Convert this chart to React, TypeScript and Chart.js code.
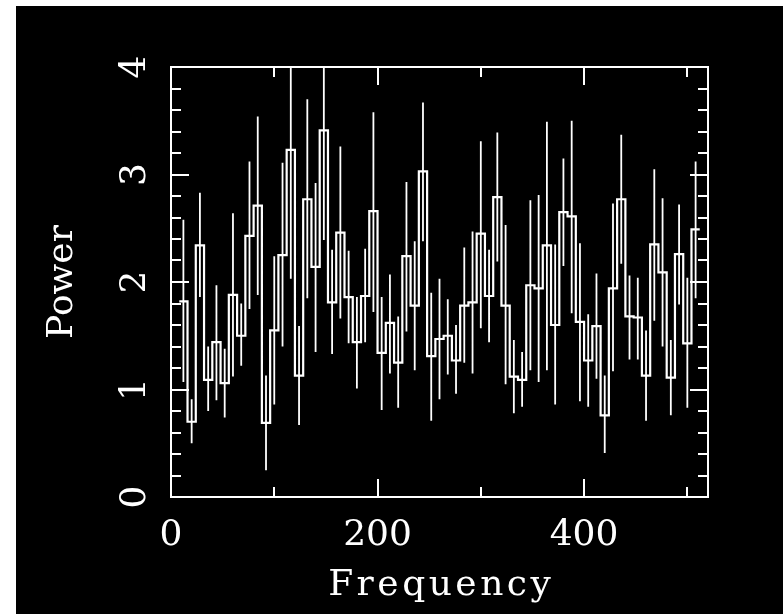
import React, { useEffect, useRef } from "react";
import { Chart, registerables } from "chart.js";

Chart.register(...registerables);

// Bin centres (frequency) of the power spectrum
const frequency = [
  12, 20, 28, 36, 44, 52, 60, 68, 76, 84, 92, 100, 108, 116, 124, 132,
  140, 148, 156, 164, 172, 180, 188, 196, 204, 212, 220, 228, 236, 244, 252, 260,
  268, 276, 284, 292, 300, 308, 316, 324, 332, 340, 348, 356, 364, 372, 380, 388,
  396, 404, 412, 420, 428, 436, 444, 452, 460, 468, 476, 484, 492, 500, 508,
];
const BIN_WIDTH = 8;

const power = [
  1.82, 0.7, 2.34, 1.09, 1.44, 1.06, 1.88, 1.5, 2.43, 2.71,
  0.69, 1.55, 2.25, 3.23, 1.13, 2.77, 2.14, 3.41, 1.81, 2.46,
  1.86, 1.44, 1.87, 2.66, 1.34, 1.62, 1.25, 2.24, 1.78, 3.03,
  1.31, 1.47, 1.5, 1.27, 1.78, 1.81, 2.45, 1.87, 2.79, 1.78,
  1.12, 1.09, 1.97, 1.94, 2.34, 1.6, 2.65, 2.61, 1.63, 1.27,
  1.59, 0.76, 1.94, 2.77, 1.68, 1.67, 1.13, 2.35, 2.09, 1.11,
  2.26, 1.43, 2.49,
];
const errHigh = [
  2.58, 0.91, 2.83, 1.4, 1.97, 1.38, 2.64, 1.8, 3.12, 3.54,
  1.13, 2.24, 3.11, 4.43, 1.59, 3.7, 2.92, 4.42, 2.3, 3.26,
  2.29, 1.86, 2.31, 3.58, 1.86, 2.07, 1.68, 2.93, 2.38, 3.67,
  1.9, 2.03, 1.84, 1.6, 2.32, 2.47, 3.31, 2.3, 3.39, 2.53,
  1.46, 1.35, 2.76, 2.81, 3.49, 2.35, 3.15, 3.5, 2.36, 1.7,
  2.08, 1.13, 2.73, 3.37, 2.06, 2.04, 1.55, 3.05, 2.78, 1.46,
  2.72, 2.04, 3.12,
];
const errLow = [
  1.07, 0.5, 1.86, 0.8, 0.9, 0.74, 1.12, 1.22, 1.75, 1.88,
  0.25, 0.86, 1.4, 2.03, 0.67, 1.85, 1.35, 2.39, 1.33, 1.66,
  1.43, 1.01, 1.44, 1.72, 0.81, 1.15, 0.83, 1.54, 1.18, 2.38,
  0.71, 0.91, 1.14, 0.96, 1.25, 1.15, 1.57, 1.44, 2.19, 1.05,
  0.78, 0.84, 1.18, 1.07, 1.18, 0.86, 2.15, 1.71, 0.89, 0.84,
  1.1, 0.41, 1.17, 2.17, 1.28, 1.28, 0.71, 1.64, 1.4, 0.76,
  1.79, 0.83, 1.85,
];

const xLabelValues = [0, 200, 400];
const xMinorTicks = [100, 300, 500];
const yLabelValues = [0, 1, 2, 3, 4];
const yMinorTicks = [
  0.2, 0.4, 0.6, 0.8, 1.2, 1.4, 1.6, 1.8, 2.2, 2.4, 2.6, 2.8, 3.2, 3.4, 3.6, 3.8,
];
const X_MAX = 520;
const Y_MAX = 4;
const xTitle = "Frequency";
const yTitle = "Power";

const FONT = "36px 'DejaVu Serif'";

const framePlugin = {
  id: "pgframe",
  afterDraw(chart: any) {
    const { ctx, chartArea: a, scales } = chart;
    const xs = scales.x;
    const ys = scales.y;
    ctx.save();
    ctx.strokeStyle = "#ffffff";
    ctx.fillStyle = "#ffffff";
    ctx.lineWidth = 2;
    ctx.lineCap = "butt";
    ctx.strokeRect(a.left, a.top, a.right - a.left, a.bottom - a.top);
    const MAJ = 18;
    const MIN = 10;
    ctx.beginPath();
    const xt = [...xLabelValues.map((v) => [v, MAJ]), ...xMinorTicks.map((v) => [v, MIN])];
    xt.forEach(([v, len]) => {
      const px = Math.round(xs.getPixelForValue(v));
      ctx.moveTo(px, a.bottom);
      ctx.lineTo(px, a.bottom - len);
      ctx.moveTo(px, a.top);
      ctx.lineTo(px, a.top + len);
    });
    const yt = [...yLabelValues.map((v) => [v, MAJ]), ...yMinorTicks.map((v) => [v, MIN])];
    yt.forEach(([v, len]) => {
      const py = Math.round(ys.getPixelForValue(v));
      ctx.moveTo(a.left, py);
      ctx.lineTo(a.left + len, py);
      ctx.moveTo(a.right, py);
      ctx.lineTo(a.right - len, py);
    });
    ctx.stroke();

    ctx.font = FONT;
    ctx.textAlign = "center";
    ctx.textBaseline = "alphabetic";
    xLabelValues.forEach((v) => {
      ctx.fillText(String(v), xs.getPixelForValue(v), a.bottom + 48);
    });
    ctx.save();
    (ctx as any).letterSpacing = "3.5px";
    ctx.fillText(xTitle, (a.left + a.right) / 2 + 1.75, a.bottom + 98);
    ctx.restore();

    yLabelValues.forEach((v) => {
      ctx.save();
      ctx.translate(a.left - 26, ys.getPixelForValue(v));
      ctx.rotate(-Math.PI / 2);
      ctx.fillText(String(v), 0, 0);
      ctx.restore();
    });
    ctx.save();
    ctx.translate(a.left - 99, (a.top + a.bottom) / 2);
    ctx.rotate(-Math.PI / 2);
    ctx.fillText(yTitle, 0, 0);
    ctx.restore();
    ctx.restore();
  },
};

export default function App() {
  const ref = useRef<HTMLCanvasElement | null>(null);
  useEffect(() => {
    if (!ref.current) return;
    const stepData = frequency.map((f, i) => ({ x: f - BIN_WIDTH / 2, y: power[i] }));
    stepData.push({
      x: frequency[frequency.length - 1] + BIN_WIDTH / 2,
      y: power[power.length - 1],
    });
    const errData: { x: number; y: number | null }[] = [];
    frequency.forEach((f, i) => {
      errData.push({ x: f, y: errLow[i] });
      errData.push({ x: f, y: errHigh[i] });
      errData.push({ x: f, y: null });
    });
    const chart = new Chart(ref.current, {
      type: "line",
      data: {
        datasets: [
          {
            label: "Power",
            data: stepData,
            stepped: "before",
            borderColor: "#ffffff",
            borderWidth: 2.2,
            borderJoinStyle: "miter",
            pointRadius: 0,
            fill: false,
          },
          {
            label: "Error",
            data: errData,
            borderColor: "#ffffff",
            borderWidth: 1.8,
            pointRadius: 0,
            spanGaps: false,
            fill: false,
          },
        ],
      },
      options: {
        responsive: false,
        animation: false,
        devicePixelRatio: 1,
        layout: { padding: { left: 155, top: 61, right: 75, bottom: 117 } },
        plugins: { legend: { display: false }, tooltip: { enabled: false } },
        scales: {
          x: { type: "linear", min: 0, max: X_MAX, display: false },
          y: { type: "linear", min: 0, max: Y_MAX, display: false },
        },
      },
      plugins: [framePlugin],
    } as any);
    return () => chart.destroy();
  }, []);
  return (
    <div
      style={{
        position: "absolute",
        left: 16,
        top: 6,
        width: 767,
        height: 608,
        background: "#000000",
      }}
    >
      <canvas ref={ref} width={767} height={608} style={{ display: "block" }} />
    </div>
  );
}
